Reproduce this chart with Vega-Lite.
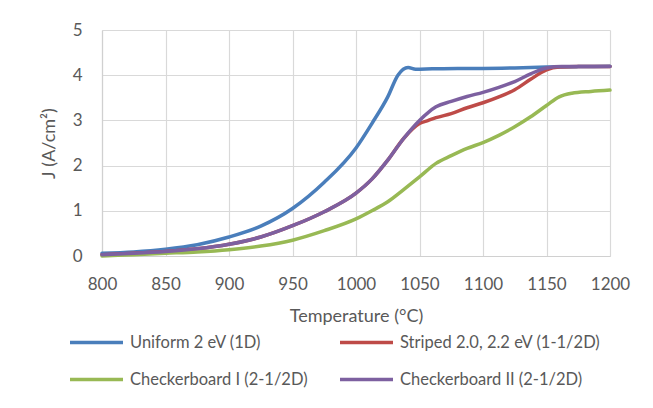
{
  "$schema": "https://vega.github.io/schema/vega-lite/v6.json",
  "width": 508,
  "height": 226,
  "autosize": "none",
  "padding": {"left": 102, "top": 30, "right": 43, "bottom": 152},
  "background": "white",
  "config": {
    "view": {"stroke": null},
    "font": "Lato",
    "axis": {
      "gridColor": "#d9d9d9",
      "gridWidth": 1.2,
      "domainColor": "#d0d0d0",
      "domainWidth": 1.2,
      "ticks": false,
      "tickSize": 0,
      "labelFont": "Lato",
      "labelFontSize": 17,
      "labelColor": "#595959",
      "labelFlush": false,
      "labelOverlap": false,
      "titleFont": "Lato",
      "titleFontSize": 18,
      "titleFontWeight": "normal",
      "titleColor": "#595959"
    },
    "legend": {
      "labelFont": "Lato",
      "labelFontSize": 16.5,
      "labelColor": "#595959",
      "labelLimit": 400
    }
  },
  "data": {
    "values": [
      {"s": "Uniform 2 eV (1D)", "T": 800, "J": 0.06},
      {"s": "Uniform 2 eV (1D)", "T": 825, "J": 0.09},
      {"s": "Uniform 2 eV (1D)", "T": 850, "J": 0.15},
      {"s": "Uniform 2 eV (1D)", "T": 875, "J": 0.25},
      {"s": "Uniform 2 eV (1D)", "T": 900, "J": 0.42},
      {"s": "Uniform 2 eV (1D)", "T": 925, "J": 0.66},
      {"s": "Uniform 2 eV (1D)", "T": 950, "J": 1.05},
      {"s": "Uniform 2 eV (1D)", "T": 975, "J": 1.63},
      {"s": "Uniform 2 eV (1D)", "T": 1000, "J": 2.39},
      {"s": "Uniform 2 eV (1D)", "T": 1012.5, "J": 2.93},
      {"s": "Uniform 2 eV (1D)", "T": 1025, "J": 3.52},
      {"s": "Uniform 2 eV (1D)", "T": 1033, "J": 4.0},
      {"s": "Uniform 2 eV (1D)", "T": 1041, "J": 4.17},
      {"s": "Uniform 2 eV (1D)", "T": 1047, "J": 4.13},
      {"s": "Uniform 2 eV (1D)", "T": 1060, "J": 4.14},
      {"s": "Uniform 2 eV (1D)", "T": 1080, "J": 4.15},
      {"s": "Uniform 2 eV (1D)", "T": 1100, "J": 4.15},
      {"s": "Uniform 2 eV (1D)", "T": 1125, "J": 4.16},
      {"s": "Uniform 2 eV (1D)", "T": 1150, "J": 4.18},
      {"s": "Uniform 2 eV (1D)", "T": 1175, "J": 4.19},
      {"s": "Uniform 2 eV (1D)", "T": 1200, "J": 4.2},

      {"s": "Striped 2.0, 2.2 eV (1-1/2D)", "T": 800, "J": 0.03},
      {"s": "Striped 2.0, 2.2 eV (1-1/2D)", "T": 825, "J": 0.06},
      {"s": "Striped 2.0, 2.2 eV (1-1/2D)", "T": 850, "J": 0.1},
      {"s": "Striped 2.0, 2.2 eV (1-1/2D)", "T": 875, "J": 0.16},
      {"s": "Striped 2.0, 2.2 eV (1-1/2D)", "T": 900, "J": 0.26},
      {"s": "Striped 2.0, 2.2 eV (1-1/2D)", "T": 925, "J": 0.42},
      {"s": "Striped 2.0, 2.2 eV (1-1/2D)", "T": 950, "J": 0.67},
      {"s": "Striped 2.0, 2.2 eV (1-1/2D)", "T": 975, "J": 0.98},
      {"s": "Striped 2.0, 2.2 eV (1-1/2D)", "T": 1000, "J": 1.39},
      {"s": "Striped 2.0, 2.2 eV (1-1/2D)", "T": 1012.5, "J": 1.7},
      {"s": "Striped 2.0, 2.2 eV (1-1/2D)", "T": 1025, "J": 2.12},
      {"s": "Striped 2.0, 2.2 eV (1-1/2D)", "T": 1037.5, "J": 2.6},
      {"s": "Striped 2.0, 2.2 eV (1-1/2D)", "T": 1050, "J": 2.93},
      {"s": "Striped 2.0, 2.2 eV (1-1/2D)", "T": 1057, "J": 3.0},
      {"s": "Striped 2.0, 2.2 eV (1-1/2D)", "T": 1063, "J": 3.06},
      {"s": "Striped 2.0, 2.2 eV (1-1/2D)", "T": 1075, "J": 3.15},
      {"s": "Striped 2.0, 2.2 eV (1-1/2D)", "T": 1087.5, "J": 3.28},
      {"s": "Striped 2.0, 2.2 eV (1-1/2D)", "T": 1100, "J": 3.39},
      {"s": "Striped 2.0, 2.2 eV (1-1/2D)", "T": 1112.5, "J": 3.52},
      {"s": "Striped 2.0, 2.2 eV (1-1/2D)", "T": 1125, "J": 3.68},
      {"s": "Striped 2.0, 2.2 eV (1-1/2D)", "T": 1137.5, "J": 3.91},
      {"s": "Striped 2.0, 2.2 eV (1-1/2D)", "T": 1150, "J": 4.12},
      {"s": "Striped 2.0, 2.2 eV (1-1/2D)", "T": 1160, "J": 4.18},
      {"s": "Striped 2.0, 2.2 eV (1-1/2D)", "T": 1175, "J": 4.19},
      {"s": "Striped 2.0, 2.2 eV (1-1/2D)", "T": 1200, "J": 4.19},

      {"s": "Checkerboard I (2-1/2D)", "T": 800, "J": 0.0},
      {"s": "Checkerboard I (2-1/2D)", "T": 825, "J": 0.03},
      {"s": "Checkerboard I (2-1/2D)", "T": 850, "J": 0.06},
      {"s": "Checkerboard I (2-1/2D)", "T": 875, "J": 0.09},
      {"s": "Checkerboard I (2-1/2D)", "T": 900, "J": 0.14},
      {"s": "Checkerboard I (2-1/2D)", "T": 925, "J": 0.22},
      {"s": "Checkerboard I (2-1/2D)", "T": 950, "J": 0.35},
      {"s": "Checkerboard I (2-1/2D)", "T": 975, "J": 0.56},
      {"s": "Checkerboard I (2-1/2D)", "T": 1000, "J": 0.82},
      {"s": "Checkerboard I (2-1/2D)", "T": 1012.5, "J": 1.0},
      {"s": "Checkerboard I (2-1/2D)", "T": 1025, "J": 1.2},
      {"s": "Checkerboard I (2-1/2D)", "T": 1037.5, "J": 1.47},
      {"s": "Checkerboard I (2-1/2D)", "T": 1050, "J": 1.75},
      {"s": "Checkerboard I (2-1/2D)", "T": 1063, "J": 2.05},
      {"s": "Checkerboard I (2-1/2D)", "T": 1075, "J": 2.22},
      {"s": "Checkerboard I (2-1/2D)", "T": 1087.5, "J": 2.38},
      {"s": "Checkerboard I (2-1/2D)", "T": 1100, "J": 2.51},
      {"s": "Checkerboard I (2-1/2D)", "T": 1112.5, "J": 2.67},
      {"s": "Checkerboard I (2-1/2D)", "T": 1125, "J": 2.86},
      {"s": "Checkerboard I (2-1/2D)", "T": 1137.5, "J": 3.08},
      {"s": "Checkerboard I (2-1/2D)", "T": 1150, "J": 3.33},
      {"s": "Checkerboard I (2-1/2D)", "T": 1160, "J": 3.52},
      {"s": "Checkerboard I (2-1/2D)", "T": 1170, "J": 3.6},
      {"s": "Checkerboard I (2-1/2D)", "T": 1185, "J": 3.64},
      {"s": "Checkerboard I (2-1/2D)", "T": 1200, "J": 3.67},

      {"s": "Checkerboard II (2-1/2D)", "T": 800, "J": 0.03},
      {"s": "Checkerboard II (2-1/2D)", "T": 825, "J": 0.06},
      {"s": "Checkerboard II (2-1/2D)", "T": 850, "J": 0.1},
      {"s": "Checkerboard II (2-1/2D)", "T": 875, "J": 0.16},
      {"s": "Checkerboard II (2-1/2D)", "T": 900, "J": 0.26},
      {"s": "Checkerboard II (2-1/2D)", "T": 925, "J": 0.42},
      {"s": "Checkerboard II (2-1/2D)", "T": 950, "J": 0.67},
      {"s": "Checkerboard II (2-1/2D)", "T": 975, "J": 0.98},
      {"s": "Checkerboard II (2-1/2D)", "T": 1000, "J": 1.39},
      {"s": "Checkerboard II (2-1/2D)", "T": 1012.5, "J": 1.7},
      {"s": "Checkerboard II (2-1/2D)", "T": 1025, "J": 2.12},
      {"s": "Checkerboard II (2-1/2D)", "T": 1037.5, "J": 2.6},
      {"s": "Checkerboard II (2-1/2D)", "T": 1050, "J": 3.0},
      {"s": "Checkerboard II (2-1/2D)", "T": 1057, "J": 3.18},
      {"s": "Checkerboard II (2-1/2D)", "T": 1063, "J": 3.3},
      {"s": "Checkerboard II (2-1/2D)", "T": 1075, "J": 3.42},
      {"s": "Checkerboard II (2-1/2D)", "T": 1087.5, "J": 3.53},
      {"s": "Checkerboard II (2-1/2D)", "T": 1100, "J": 3.62},
      {"s": "Checkerboard II (2-1/2D)", "T": 1112.5, "J": 3.73},
      {"s": "Checkerboard II (2-1/2D)", "T": 1125, "J": 3.86},
      {"s": "Checkerboard II (2-1/2D)", "T": 1137.5, "J": 4.03},
      {"s": "Checkerboard II (2-1/2D)", "T": 1150, "J": 4.16},
      {"s": "Checkerboard II (2-1/2D)", "T": 1162, "J": 4.19},
      {"s": "Checkerboard II (2-1/2D)", "T": 1180, "J": 4.19},
      {"s": "Checkerboard II (2-1/2D)", "T": 1200, "J": 4.19}
    ]
  },
  "mark": {"type": "line", "interpolate": "monotone", "strokeWidth": 3.5, "strokeCap": "round"},
  "encoding": {
    "x": {
      "field": "T", "type": "quantitative",
      "scale": {"domain": [800, 1200], "nice": false, "zero": false},
      "axis": {"values": [800, 850, 900, 950, 1000, 1050, 1100, 1150, 1200], "format": "d", "title": "Temperature (°C)", "labelPadding": 20, "titlePadding": 15}
    },
    "y": {
      "field": "J", "type": "quantitative",
      "scale": {"domain": [0, 5], "nice": false},
      "axis": {"values": [0, 1, 2, 3, 4, 5], "format": "d", "title": "J (A/cm²)", "labelPadding": 20, "titlePadding": 0, "titleX": -44, "titleY": 113}
    },
    "color": {
      "field": "s", "type": "nominal",
      "scale": {
        "domain": ["Uniform 2 eV (1D)", "Striped 2.0, 2.2 eV (1-1/2D)", "Checkerboard I (2-1/2D)", "Checkerboard II (2-1/2D)"],
        "range": ["#4A7EBB", "#BE4B48", "#98B954", "#7D60A0"]
      },
      "legend": {
        "title": null,
        "orient": "none",
        "direction": "horizontal",
        "legendX": -34,
        "legendY": 284,
        "columns": 2,
        "columnPadding": 25,
        "rowPadding": -14,
        "symbolType": "stroke",
        "symbolSize": 2809,
        "symbolStrokeWidth": 3.5,
        "labelOffset": 5
      }
    }
  }
}
